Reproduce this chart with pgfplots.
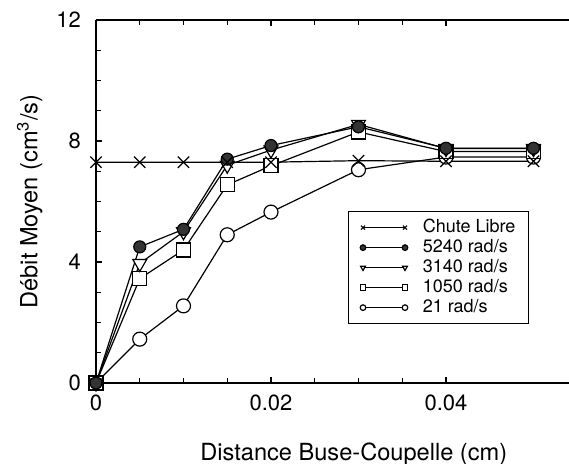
\documentclass[border=0pt]{standalone}
\usepackage{fontspec}
\setmainfont{TeX Gyre Heros}
\usepackage{pgfplots}
\pgfplotsset{compat=1.18}
\begin{document}
\begin{tikzpicture}
\begin{axis}[
  at={(0,0)}, anchor=south west,
  scale only axis, width=236.5pt, height=181.5pt,
  xmin=0, xmax=0.05406, ymin=0, ymax=12,
  axis x line=box, axis y line=left,
  axis line style={-, line width=0.8pt},
  scaled x ticks=false,
  xtick={0,0.02,0.04}, xticklabels={0,0.02,0.04},
  ytick={0,4,8,12},
  minor x tick num=3, minor y tick num=3,
  tick align=inside, major tick length=3pt, minor tick length=2.5pt,
  tick style={line width=0.6pt, black},
  tick label style={font=\fontsize{11}{12}\selectfont},
  yticklabel style={xshift=-4pt},
  xticklabel style={yshift=-2.5pt},
  /pgf/number format/assume math mode=true,
  xlabel={Distance Buse-Coupelle (cm)},
  ylabel={Débit Moyen (cm\textsuperscript{3}/s)},
  label style={font=\fontsize{11.8}{13}\selectfont},
  xlabel style={at={(axis description cs:0.545,-0.196)}, anchor=center},
  ylabel style={at={(axis description cs:-0.14,0.5)}, anchor=center},
  every axis plot/.append style={black, line width=0.6pt},
  legend image code/.code={\draw[#1, mark size=1.4pt] plot coordinates {(0pt,0pt) (21pt,0pt)};},
  legend style={at={(axis description cs:0.9154,0.4738)}, anchor=north east,
    draw=black, line width=0.6pt, font=\fontsize{9}{10}\selectfont,
    nodes={inner sep=0.5pt, text height=7pt, text depth=2pt},
    inner xsep=6pt, inner ysep=3pt, column sep=7pt},
  legend cell align=left,
  reverse legend,
]
\addplot[mark=*, mark size=3.5pt, mark options={fill=white}] coordinates {
  (0,0) (0.005,1.45) (0.01,2.55) (0.015,4.9) (0.02,5.65) (0.03,7.05) (0.04,7.47) (0.05,7.47)};
\addlegendentry{21 rad/s}
\addplot[mark=square*, mark size=3.5pt, mark options={fill=white}] coordinates {
  (0,0) (0.005,3.45) (0.01,4.4) (0.015,6.55) (0.02,7.18) (0.03,8.3) (0.04,7.65) (0.05,7.65)};
\addlegendentry{1050 rad/s}
\addplot[mark=triangle*, mark size=4pt, mark options={fill=white, rotate=180}] coordinates {
  (0,0) (0.005,3.95) (0.01,5.0) (0.015,7.2) (0.02,7.7) (0.03,8.55) (0.04,7.75) (0.05,7.75)};
\addlegendentry{3140 rad/s}
\addplot[mark=*, mark size=3pt, mark options={fill=black!80}] coordinates {
  (0,0) (0.005,4.5) (0.01,5.08) (0.015,7.4) (0.02,7.85) (0.03,8.47) (0.04,7.76) (0.05,7.76)};
\addlegendentry{5240 rad/s}
\addplot[mark=x, mark size=4pt] coordinates {
  (0,7.3) (0.005,7.3) (0.01,7.3) (0.015,7.3) (0.02,7.3) (0.03,7.35) (0.04,7.33) (0.05,7.33)};
\addlegendentry{Chute Libre}
\end{axis}
\pgfresetboundingbox
\path[use as bounding box] (-48pt,-40pt) rectangle (236.5pt,191.5pt);
\end{tikzpicture}
\end{document}
